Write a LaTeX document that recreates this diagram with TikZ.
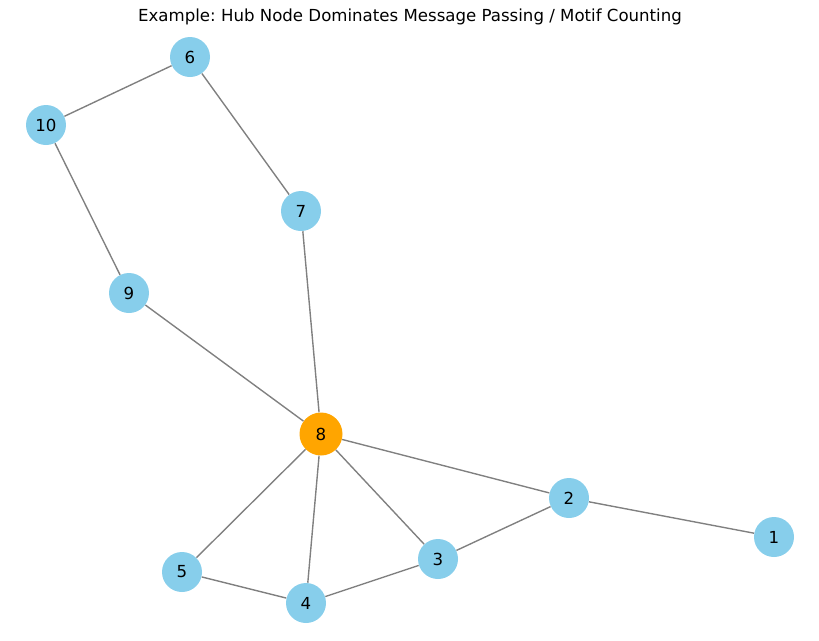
\documentclass[tikz,border=0pt]{standalone}
\usepackage{fontspec}
\setmainfont{DejaVu Sans}
\usepackage{tikz}
\frenchspacing

\definecolor{skyblue}{HTML}{87CEEB}
\definecolor{huborange}{HTML}{FFA500}
\definecolor{edgegray}{HTML}{808080}

\tikzset{
	vertex/.style={circle, fill=skyblue, minimum size=40*0.02cm, inner sep=0pt, font=\fontsize{9.45}{11}\selectfont},
	hub/.style={vertex, fill=huborange, minimum size=43*0.02cm},
	link/.style={draw=edgegray, line width=0.79pt}
}

\begin{document}
\begin{tikzpicture}[x=0.02cm, y=-0.02cm]
		\useasboundingbox (0,0) rectangle (819,640);
		\node[font=\fontsize{9.45}{11}\selectfont] (title) at (410, 17) {Example: Hub Node Dominates Message Passing / Motif Counting};
		% nodes
		\node[vertex] (n6) at (190, 57) {6};
		\node[vertex] (n10) at (46, 125) {10};
		\node[vertex] (n7) at (301, 211) {7};
		\node[vertex] (n9) at (129, 293) {9};
		\node[hub] (n8) at (321, 434) {8};
		\node[vertex] (n2) at (569, 498) {2};
		\node[vertex] (n1) at (774, 537) {1};
		\node[vertex] (n3) at (438, 559) {3};
		\node[vertex] (n5) at (182, 572) {5};
		\node[vertex] (n4) at (306, 603) {4};
		% edges
		\draw[link] (n6) -- (n10);
		\draw[link] (n6) -- (n7);
		\draw[link] (n10) -- (n9);
		\draw[link] (n7) -- (n8);
		\draw[link] (n9) -- (n8);
		\draw[link] (n8) -- (n2);
		\draw[link] (n8) -- (n5);
		\draw[link] (n8) -- (n4);
		\draw[link] (n8) -- (n3);
		\draw[link] (n2) -- (n1);
		\draw[link] (n2) -- (n3);
		\draw[link] (n3) -- (n4);
		\draw[link] (n5) -- (n4);
	\end{tikzpicture}
\end{document}
